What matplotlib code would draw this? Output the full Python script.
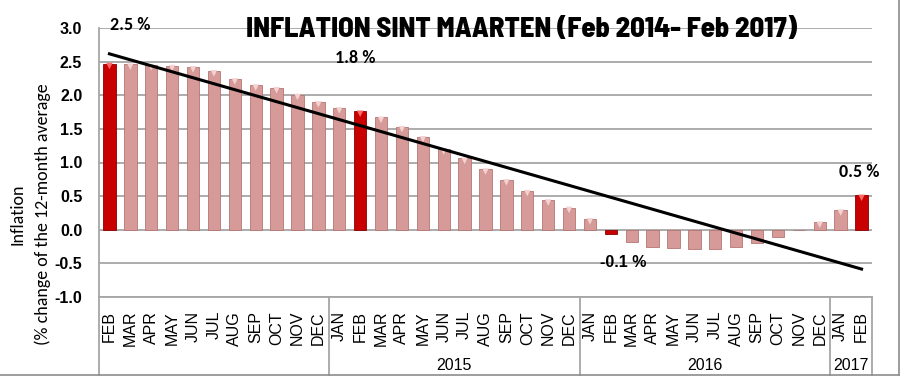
import numpy as np
import matplotlib
matplotlib.use("Agg")
import matplotlib.pyplot as plt
from matplotlib.lines import Line2D
import matplotlib.transforms as mtransforms

months = ["FEB", "MAR", "APR", "MAY", "JUN", "JUL", "AUG", "SEP", "OCT", "NOV", "DEC",
          "JAN", "FEB", "MAR", "APR", "MAY", "JUN", "JUL", "AUG", "SEP", "OCT", "NOV", "DEC",
          "JAN", "FEB", "MAR", "APR", "MAY", "JUN", "JUL", "AUG", "SEP", "OCT", "NOV", "DEC",
          "JAN", "FEB"]
years = [2014] * 11 + [2015] * 12 + [2016] * 12 + [2017] * 2
inflation = [2.47, 2.46, 2.45, 2.44, 2.42, 2.36, 2.24, 2.15, 2.11, 2.01, 1.90,
             1.81, 1.76, 1.67, 1.53, 1.38, 1.20, 1.06, 0.90, 0.74, 0.58, 0.44, 0.33,
             0.16, -0.06, -0.18, -0.25, -0.27, -0.29, -0.28, -0.25, -0.20, -0.11, -0.01, 0.11,
             0.29, 0.51]
year_labels = {2014: "", 2015: "2015", 2016: "2016", 2017: "2017"}

grey = "#A6A6A6"
pink = "#D69A98"
red = "#C80000"
calibri = ["Carlito", "Lato", "DejaVu Sans"]

fig = plt.figure(figsize=(9.07, 3.77), dpi=100)
ax = fig.add_axes([99 / 907, 1 - 297 / 377, 773 / 907, 269 / 377])

x = np.arange(len(inflation))
vals = np.array(inflation)
colors = [red if m == "FEB" else pink for m in months]
edges = ["#8E0000" if m == "FEB" else "#B57573" for m in months]
ax.bar(x, inflation, width=0.59, color=colors, edgecolor=edges, linewidth=0.6, zorder=3)
# light chevron on top of the positive bars
pos = vals > 0.05
tops = np.array([("#FF6A6A" if m == "FEB" else "#F3D2D1") for m in months])
ax.scatter(x[pos], vals[pos] - 0.035, marker="v", s=22, c=tops[pos], linewidths=0, zorder=4)

# linear trend line
k, b = np.polyfit(x, vals, 1)
ax.plot([x[0], x[-1]], [k * x[0] + b, k * x[-1] + b], color="black", lw=2.2, zorder=5)

ax.set_xlim(-0.5, len(inflation) - 0.5)
ax.set_ylim(-1.0, 3.0)
ticks = np.arange(-1.0, 3.01, 0.5)
ax.set_yticks(ticks)
ax.set_yticklabels([f"{v:.1f}" for v in ticks], fontsize=11.5, fontweight="bold",
                   family="Liberation Sans")
ax.yaxis.grid(True, color=grey, lw=1.3, zorder=0)
ax.tick_params(axis="y", length=0, pad=12)
ax.tick_params(axis="x", length=0, pad=10)
ax.set_xticks(x)
ax.set_xticklabels(months, rotation=90, fontsize=11.5, family="Liberation Sans", va="top")

for s in ["top", "right"]:
    ax.spines[s].set_visible(False)
for s in ["left", "bottom"]:
    ax.spines[s].set_color(grey)
    ax.spines[s].set_linewidth(1.3)

# category groups below the axis
trans = mtransforms.blended_transform_factory(ax.transData, ax.transAxes)
yrs = np.array(years)
bounds = [-0.5] + [i - 0.5 for i in range(1, len(yrs)) if yrs[i] != yrs[i - 1]] + [len(yrs) - 0.5]
for bx in bounds:
    ax.plot([bx, bx], [0, -78 / 269], transform=trans, color=grey, lw=1.3, clip_on=False)
for y0 in sorted(set(years)):
    idx = np.where(yrs == y0)[0]
    ax.text(idx.mean(), -68 / 269, year_labels[y0], transform=trans, ha="center", va="center",
            fontsize=11.5, family="Liberation Sans")

# annotations
ax.text(1.0, 2.97, "2.5 %", ha="center", va="baseline", fontsize=13, fontweight="bold", family=calibri, zorder=6)
ax.text(11.77, 2.48, "1.8 %", ha="center", va="baseline", fontsize=13, fontweight="bold", family=calibri, zorder=6)
ax.text(35.9, 0.78, "0.5 %", ha="center", va="baseline", fontsize=13, fontweight="bold", family=calibri, zorder=6)
ax.text(24.57, -0.56, "-0.1 %", ha="center", va="baseline", fontsize=11.5, fontweight="bold",
        family="Liberation Sans", zorder=6)

fig.text(522 / 907, 1 - 37 / 377, "INFLATION SINT MAARTEN (Feb 2014- Feb 2017)", ha="center",
         va="baseline", fontsize=20.5, fontweight=800,
         family=["Barlow Semi Condensed", "Barlow Condensed", "DejaVu Sans"])

fig.text(18 / 907, 1 - 214 / 377, "Inflation", rotation=90, ha="center", va="center",
         fontsize=13, family=calibri)
fig.text(43 / 907, 1 - 214 / 377, "(% change of the 12-month average", rotation=90, ha="center",
         va="center", fontsize=13, family=calibri)

# outer frame
fig.add_artist(Line2D([899 / 907, 899 / 907], [2 / 377, 1], color="#8C8C8C", lw=1.2))
fig.add_artist(Line2D([0, 899 / 907], [2 / 377, 2 / 377], color="#8C8C8C", lw=1.2))

fig.savefig("out.png", dpi=100)
